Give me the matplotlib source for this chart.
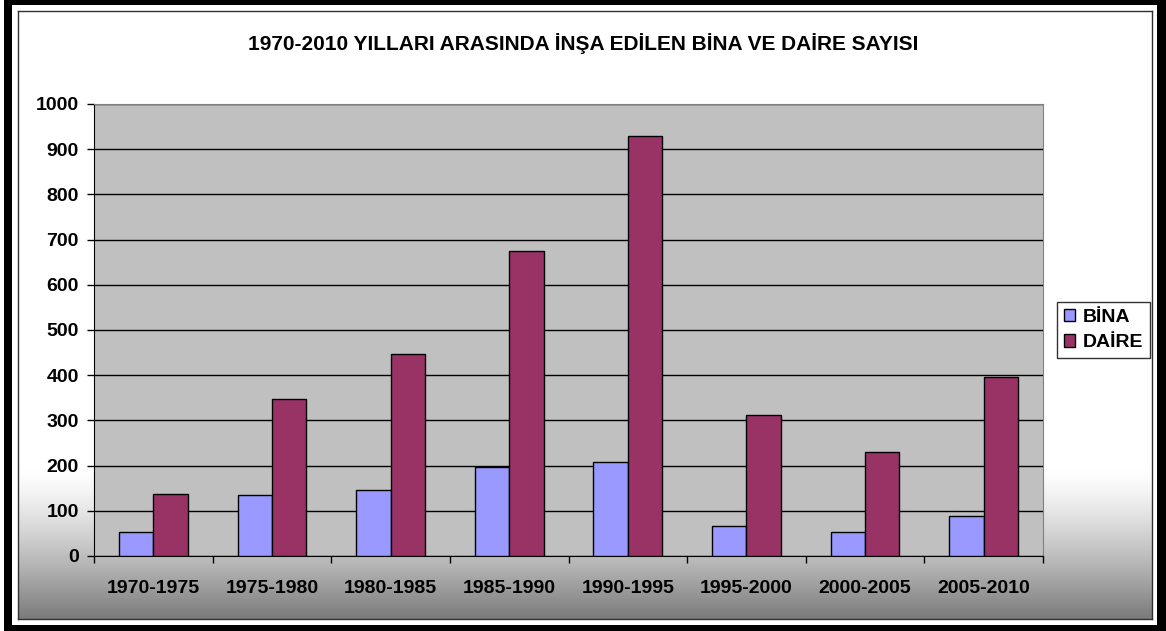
import numpy as np
import matplotlib
matplotlib.use("Agg")
import matplotlib.pyplot as plt
from matplotlib.patches import Rectangle

categories = ["1970-1975", "1975-1980", "1980-1985", "1985-1990",
              "1990-1995", "1995-2000", "2000-2005", "2005-2010"]
bina = [53, 135, 146, 196, 208, 67, 53, 88]
daire = [137, 348, 446, 674, 929, 313, 231, 395]
series_names = ["BİNA", "DAİRE"]
title = "1970-2010 YILLARI ARASINDA İNŞA EDİLEN BİNA VE DAİRE SAYISI"
yticks = [0, 100, 200, 300, 400, 500, 600, 700, 800, 900, 1000]

plt.rcParams['font.family'] = ['Liberation Sans', 'DejaVu Sans']
plt.rcParams['font.weight'] = 'bold'

W, H = 1166, 631
fig = plt.figure(figsize=(W / 100, H / 100), dpi=100)
fig.patch.set_facecolor("white")

def fx(px):
    return px / W

def fy(py):
    return 1 - py / H

# background gradient area (inner frame)
x0, x1, y0, y1 = 18, 1152, 11, 619
bg = fig.add_axes([fx(x0), fy(y1), fx(x1 - x0), (y1 - y0) / H])
bg.set_xlim(0, 1)
bg.set_ylim(y1, y0)
rows = np.arange(y0, y1 + 1, dtype=float)
start = 470.0
t = np.clip((rows - start) / (y1 - start), 0, 1)
val = 1.0 - 0.52 * t ** 1.3
img = np.dstack([val, val, val])[:, None, :].reshape(len(rows), 1, 3)
bg.imshow(img, aspect='auto', extent=(0, 1, y1, y0), interpolation='bilinear')
bg.set_xticks([])
bg.set_yticks([])
for s in bg.spines.values():
    s.set_color("#303030")
    s.set_linewidth(1.0)
bg.set_zorder(0)

# outer black frame
for (rx, ry, rw, rh) in [(4, 0, 8, H), (4, 0, W - 4, 5), (W - 9, 0, 9, H), (4, H - 6, W - 4, 6)]:
    fig.patches.append(Rectangle((fx(rx), fy(ry + rh)), fx(rw), rh / H,
                                 transform=fig.transFigure, facecolor="black",
                                 edgecolor="none", zorder=10))

# main plot
px0, px1, py0, py1 = 94, 1043, 104, 556
ax = fig.add_axes([fx(px0), fy(py1), fx(px1 - px0), (py1 - py0) / H])
ax.set_zorder(2)
ax.set_facecolor("#C0C0C0")
x = np.arange(len(categories))
bw = 0.29
ax.bar(x - bw / 2, bina, bw, color="#9999FF", edgecolor="black", linewidth=1.0,
       label=series_names[0], zorder=3)
ax.bar(x + bw / 2, daire, bw, color="#993366", edgecolor="black", linewidth=1.0,
       label=series_names[1], zorder=3)
ax.set_xlim(-0.5, len(categories) - 0.5)
ax.set_ylim(0, 1000)
ax.set_yticks(yticks)
ax.set_yticklabels([str(v) for v in yticks], fontsize=14, fontweight='bold')
ax.yaxis.grid(True, color="black", linewidth=1.0, zorder=1)
ax.set_axisbelow(True)
ax.set_xticks(np.arange(len(categories) + 1) - 0.5)
ax.set_xticklabels([])
ax.set_xticks(x, minor=True)
ax.set_xticklabels(categories, minor=True, fontsize=14, fontweight='bold')
ax.tick_params(axis='x', which='major', length=5, width=1, direction='out', color='black')
ax.tick_params(axis='x', which='minor', length=0, pad=17)
ax.tick_params(axis='y', length=5, width=1, direction='out', pad=6)
ax.spines['left'].set_color('black')
ax.spines['bottom'].set_color('black')
ax.spines['top'].set_color('#808080')
ax.spines['right'].set_color('#808080')

fig.text(fx(583), fy(44), title, ha='center', va='center', fontsize=15,
         fontweight='bold', zorder=5)

leg = ax.legend(loc='center left', bbox_to_anchor=((1057 - px0) / (px1 - px0), 0.5),
                frameon=True, fancybox=False, fontsize=14, handlelength=0.6,
                handleheight=0.6, handletextpad=0.35, borderpad=0.35, labelspacing=0.45,
                borderaxespad=0)
leg.get_frame().set_edgecolor('black')
leg.get_frame().set_linewidth(1.0)
for t_ in leg.get_texts():
    t_.set_fontweight('bold')

fig.savefig("out.png", dpi=100)
